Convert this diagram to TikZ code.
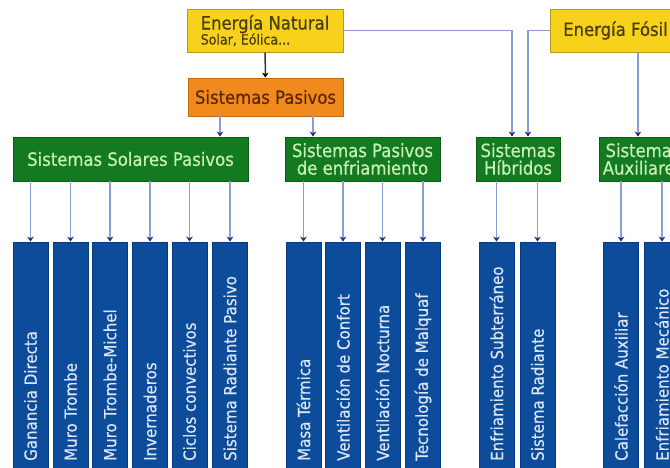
\documentclass[tikz,border=0pt]{standalone}
\usepackage{fontspec}
\setmainfont{DejaVu Sans}[FakeStretch=0.9,FakeBold=0.5]
\usetikzlibrary{arrows.meta}
\definecolor{yelfill}{HTML}{F6D21C}
\definecolor{yeldraw}{HTML}{B39A1E}
\definecolor{yeltext}{HTML}{4A3C05}
\definecolor{orfill}{HTML}{F08A1C}
\definecolor{ordraw}{HTML}{C46A12}
\definecolor{ortext}{HTML}{5A2806}
\definecolor{grfill}{HTML}{137A22}
\definecolor{grdraw}{HTML}{0C5A16}
\definecolor{grtext}{HTML}{C8F0B4}
\definecolor{blfill}{HTML}{0C4C9A}
\definecolor{bldraw}{HTML}{083C82}
\definecolor{bltext}{HTML}{DCE5F5}
\definecolor{conncol}{HTML}{8F9BD3}
\definecolor{tipcol}{HTML}{1C2F78}
\begin{document}
\begin{tikzpicture}[x=1pt,y=-1pt,
  box/.style={draw, line width=0.8pt, inner sep=0pt},
  sz/.style 2 args={minimum width=#1pt, minimum height=#2pt},
  yelbox/.style={box, fill=yelfill, draw=yeldraw, text=yeltext},
  orbox/.style={box, fill=orfill, draw=ordraw, text=ortext, font=\fontsize{18.3}{18}\selectfont},
  grbox/.style={box, fill=grfill, draw=grdraw, text=grtext, sz={#1}{44}, align=center, font=\fontsize{18.3}{17.5}\selectfont},
  bluebox/.style={box, fill=blfill, draw=bldraw, sz={35}{240}},
  bluetext/.style={rotate=90, anchor=west, inner sep=0pt, text=bltext, font=\fontsize{16.7}{16}\selectfont},
  conn/.style={draw=conncol, line width=1.9pt, -{Stealth[length=5pt,width=6.5pt,color=tipcol]}},
  darkconn/.style={draw=black!80, line width=1.5pt, -{Stealth[length=5pt,width=6.5pt,color=black]}}
]
\useasboundingbox (0,0) rectangle (670,468);
\fill[white] (0,0) rectangle (670,468);
\clip (0,0) rectangle (670,468);

% top level
\node[yelbox, sz={156}{43}, align=left] (en) at (265,30.5)
  {{\fontsize{18.3}{17}\selectfont Energía Natural}\\[-1pt]{\fontsize{14}{13}\selectfont Solar, Eólica...}};
\node[yelbox, sz={131}{43}, font=\fontsize{18.3}{18}\selectfont] (ef) at (615.5,30.5) {Energía Fósil};
\node[orbox, sz={155}{38}] (sp) at (265.5,97) {Sistemas Pasivos};

% green level
\node[grbox=235] (ssp) at (130.5,159) {Sistemas Solares Pasivos};
\node[grbox=155] (spe) at (362.5,159) {Sistemas Pasivos\\de enfriamiento};
\node[grbox=84] (sh) at (518,159) {Sistemas\\Híbridos};
\node[grbox=87] (sa) at (643,159) {Sistemas\\Auxiliares};

% helper x positions
\coordinate (x1) at (220,0);
\coordinate (x2) at (313,0);
\coordinate (x3) at (512,0);
\coordinate (x4) at (528,0);
\coordinate (x5) at (638,0);

% upper connectors
\draw[darkconn] (en) -- (sp);
\draw[conn] (sp.south -| x1) -- (ssp.north -| x1);
\draw[conn] (sp.south -| x2) -- (spe.north -| x2);
\draw[conn] (en.east) -| (sh.north -| x3);
\draw[conn] (ef.west) -| (sh.north -| x4);
\draw[conn] (ef.south -| x5) -- (sa.north -| x5);

% blue boxes
\foreach \i/\x/\t in {1/30.5/Ganancia Directa,2/70.5/Muro Trombe,3/110/Muro Trombe-Michel,4/150/Invernaderos,5/189.5/Ciclos convectivos,6/230/Sistema Radiante Pasivo}{
  \node[bluebox] (a\i) at (\x,362) {};
  \node[bluetext] (ta\i) at (\x,461) {\t};
  \draw[conn] (ssp.south -| a\i) -- (a\i.north);
}
\foreach \i/\x/\t in {1/303.5/Masa Térmica,2/343/Ventilación de Confort,3/382.5/Ventilación Nocturna,4/423/Tecnología de Malquaf}{
  \node[bluebox] (b\i) at (\x,362) {};
  \node[bluetext] (tb\i) at (\x,461) {\t};
  \draw[conn] (spe.south -| b\i) -- (b\i.north);
}
\foreach \i/\x/\t in {1/496.5/Enfriamiento Subterráneo,2/537.5/Sistema Radiante}{
  \node[bluebox] (c\i) at (\x,362) {};
  \node[bluetext] (tc\i) at (\x,461) {\t};
  \draw[conn] (sh.south -| c\i) -- (c\i.north);
}
\foreach \i/\x/\t in {1/621/Calefacción Auxiliar,2/662/Enfriamiento Mecánico}{
  \node[bluebox] (d\i) at (\x,362) {};
  \node[bluetext] (td\i) at (\x,461) {\t};
  \draw[conn] (sa.south -| d\i) -- (d\i.north);
}
\end{tikzpicture}
\end{document}
